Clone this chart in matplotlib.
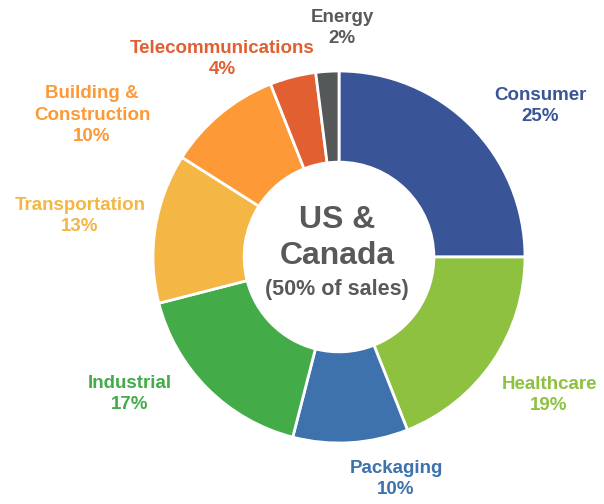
import matplotlib
matplotlib.use("Agg")
import matplotlib.pyplot as plt

categories = ["Consumer", "Healthcare", "Packaging", "Industrial", "Transportation",
              "Building &\nConstruction", "Telecommunications", "Energy"]
values = [25, 19, 10, 17, 13, 10, 4, 2]
colors = ["#3A5597", "#8DC13F", "#3D72AD", "#43AC49", "#F4B644", "#FD9A37", "#E15F31", "#545859"]
label_colors = ["#3A5597", "#8DC13F", "#3D72AD", "#43AC49", "#F4B644", "#FD9A37", "#E15F31", "#58595B"]
center_title = "US &\nCanada"
center_sub = "(50% of sales)"

W, H = 604, 504
cx, cy, R = 339, 257, 186
# label anchor positions in pixels (x, y of the label block centre)
label_px = [(540, 106), (549, 395), (396, 479), (130, 394), (80, 216),
            (92, 115), (222, 59), (342, 28)]

fig = plt.figure(figsize=(W / 100, H / 100), dpi=100)
ax = fig.add_axes([0, 0, 1, 1])

ax.pie(values, colors=colors, startangle=90, counterclock=False, radius=1.0,
       wedgeprops=dict(width=0.49, edgecolor="white", linewidth=2.0))

ax.set_xlim(-cx / R, (W - cx) / R)
ax.set_ylim(-(H - cy) / R, cy / R)
ax.set_aspect("equal")
ax.axis("off")

for cat, v, col, (px, py) in zip(categories, values, label_colors, label_px):
    x = (px - cx) / R
    y = (cy - py) / R
    ax.text(x, y, f"{cat}\n{v}%", ha="center", va="center", color=col,
            fontsize=13.5, fontweight="bold", family="Liberation Sans", linespacing=1.38)

ax.text((337 - cx) / R, (cy - 238) / R, center_title, ha="center", va="center",
        color="#58595B", fontsize=23, fontweight="bold", family="Liberation Sans",
        linespacing=1.3)
ax.text((337 - cx) / R, (cy - 290) / R, center_sub, ha="center", va="center",
        color="#58595B", fontsize=15.5, fontweight="bold", family="Liberation Sans")

fig.savefig("out.png", dpi=100)
